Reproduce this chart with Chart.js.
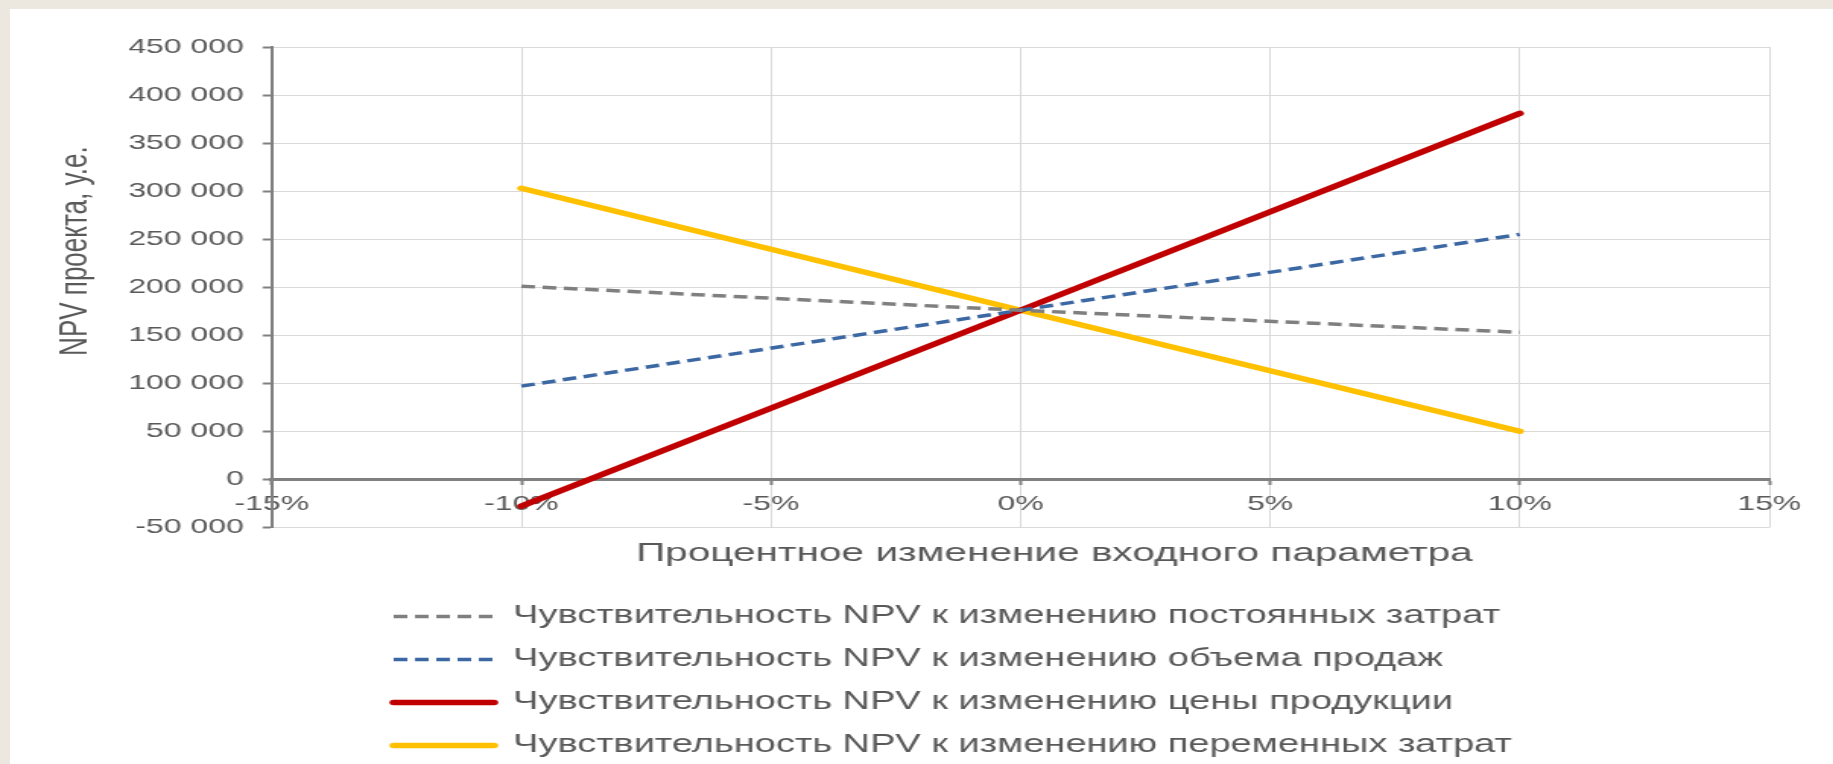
<!DOCTYPE html>
<html>
<head>
<meta charset="utf-8">
<title>Чувствительность NPV</title>
<script src="https://cdn.jsdelivr.net/npm/chart.js@4.4.1/dist/chart.umd.min.js"></script>
<style>
  html, body { margin: 0; height: 100%; overflow: hidden; background: #ece7df; }
  .sheet { position: absolute; left: 10px; top: 9px; right: 0; bottom: 0; background: #fff; }
  /* the source picture is a chart stretched wide, so draw it narrow and stretch the same way */
  .stretch { position: absolute; left: 0; top: 0; width: 1206px; height: 764px; transform: scaleX(1.52); transform-origin: 0 0; }
</style>
</head>
<body>
<div class="sheet"></div>
<div class="stretch"><canvas id="chart"></canvas></div>
<script>
// percent change of the input parameter
const changes = [-10, 0, 10]

// NPV, y.e.
const fixedCosts = [201000, 176000, 153000]
const salesVolume = [97000, 176000, 255000]
const productPrice = [-28000, 176000, 381000]
const variableCosts = [303000, 176000, 50000]

const seriesNames = [
  'Чувствительность NPV к изменению постоянных затрат',
  'Чувствительность NPV к изменению объема продаж',
  'Чувствительность NPV к изменению цены продукции',
  'Чувствительность NPV к изменению переменных затрат',
]

const xRange = [-15, 15]
const xStep = 5
const yRange = [-50000, 450000]
const yStep = 50000

const xTitle = 'Процентное изменение входного параметра'
const yTitle = 'NPV проекта, у.е.'

Chart.defaults.font.family = "'Liberation Sans', Arial, sans-serif"
Chart.defaults.color = '#595959'

const toPoints = (values) => changes.map((c, i) => ({ x: c, y: values[i] }))
const groupDigits = (v) => (v < 0 ? '-' : '') + String(Math.abs(v)).replace(/\B(?=(\d{3})+(?!\d))/g, ' ')

// legend column sits under the plot, not at the page edge
const legendLeft = {
  id: 'legendLeft',
  afterLayout(chart) {
    chart.legend.left = 241
  }
}

// with usePointStyle the legend takes the point style, so put the line style back
function lineLegendItems(chart) {
  const items = Chart.defaults.plugins.legend.labels.generateLabels(chart)
  items.forEach((item) => {
    const ds = chart.data.datasets[item.datasetIndex]
    item.lineWidth = ds.borderWidth
    item.lineDash = ds.borderDash || []
    item.lineCap = ds.borderCapStyle || 'butt'
    item.strokeStyle = ds.borderColor
  })
  return items
}

new Chart(document.getElementById('chart'), {
  type: 'line',
  data: {
    datasets: [
      { label: seriesNames[0], data: toPoints(fixedCosts), borderColor: '#7f7f7f', backgroundColor: '#7f7f7f', borderWidth: 3.5, borderDash: [9, 5] },
      { label: seriesNames[1], data: toPoints(salesVolume), borderColor: '#3b67a2', backgroundColor: '#3b67a2', borderWidth: 3.5, borderDash: [9, 5] },
      { label: seriesNames[2], data: toPoints(productPrice), borderColor: '#c00000', backgroundColor: '#c00000', borderWidth: 5.5, borderCapStyle: 'round' },
      { label: seriesNames[3], data: toPoints(variableCosts), borderColor: '#ffc000', backgroundColor: '#ffc000', borderWidth: 5.5, borderCapStyle: 'round' },
    ]
  },
  options: {
    responsive: true,
    maintainAspectRatio: false,
    animation: false,
    events: [],
    elements: { point: { radius: 0 }, line: { tension: 0, fill: false } },
    layout: { padding: { left: 34.4, right: 42, top: 47, bottom: -4 } },
    plugins: {
      tooltip: { enabled: false },
      legend: {
        position: 'bottom',
        align: 'start',
        labels: {
          usePointStyle: true,
          pointStyle: 'line',
          pointStyleWidth: 66,
          padding: 18,
          color: '#595959',
          font: { size: 25 },
          generateLabels: lineLegendItems
        }
      }
    },
    scales: {
      x: {
        type: 'linear',
        position: { y: 0 },
        min: xRange[0],
        max: xRange[1],
        ticks: { stepSize: xStep, padding: 8, font: { size: 21 }, callback: (v) => v + '%' },
        grid: { color: '#d9d9d9', tickColor: '#808080', tickLength: 4, tickWidth: 2 },
        border: { color: '#808080', width: 3 }
      },
      // carries only the axis title, below the plot
      x2: {
        type: 'linear',
        position: 'bottom',
        min: xRange[0],
        max: xRange[1],
        ticks: { display: false },
        grid: { display: false, drawTicks: false },
        border: { display: false },
        title: { display: true, text: ' '.repeat(6) + xTitle, font: { size: 26.7 }, padding: { top: 10, bottom: 16.6 } }
      },
      y: {
        min: yRange[0],
        max: yRange[1],
        ticks: { stepSize: yStep, padding: 12.5, font: { size: 21 }, callback: groupDigits },
        grid: { color: '#d9d9d9', tickColor: '#808080', tickLength: 6, tickWidth: 2 },
        border: { color: '#808080', width: 2 },
        title: { display: true, text: ' '.repeat(10) + yTitle, font: { size: 26 }, padding: { top: 0, bottom: 6.3 } }
      }
    }
  },
  plugins: [legendLeft]
})
</script>
</body>
</html>
